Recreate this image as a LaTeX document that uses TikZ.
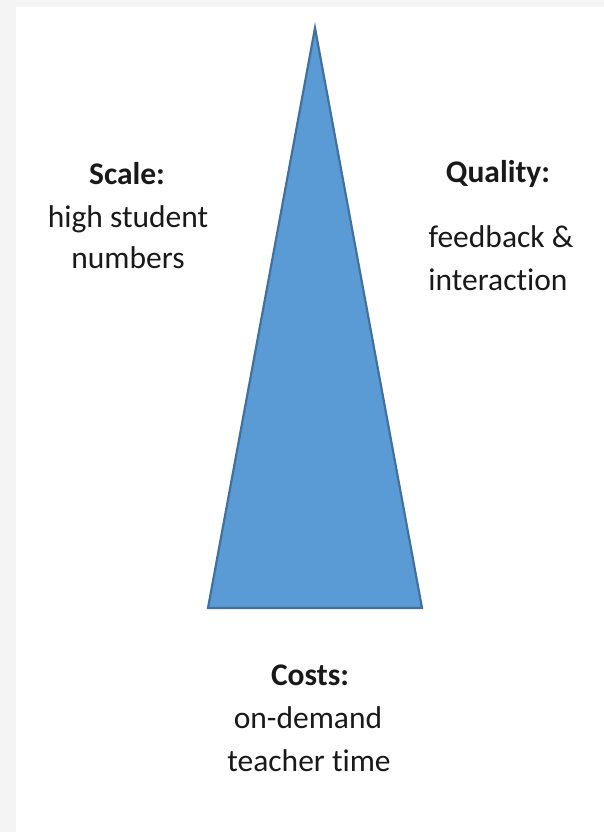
\documentclass[tikz,border=0pt]{standalone}
\usepackage{fontspec}
\setmainfont{Carlito}[Ligatures=CommonOff]
\definecolor{bggray}{HTML}{F4F4F4}
\definecolor{trifill}{HTML}{5B9BD5}
\definecolor{triline}{HTML}{41719C}
\begin{document}
\begin{tikzpicture}[x=1bp,y=-1bp,
  lbl/.style={anchor=base,inner sep=0pt,font=\fontsize{31.5bp}{38bp}\selectfont,text=black!90},
  head/.style={lbl,font=\fontsize{31.5bp}{38bp}\selectfont\bfseries}]
\useasboundingbox (0,0) rectangle (604,832);
\fill[bggray] (0,0) rectangle (604,832);
\fill[white] (16,7) rectangle (604,832);
\coordinate (apex) at (315,28);
\coordinate (bl) at (208,608);
\coordinate (br) at (422,608);
\draw[fill=trifill,draw=triline,line width=2.2bp,line join=miter] (apex) -- (br) -- (bl) -- cycle;
\node[head] (scale) at (127,184) {Scale:};
\node[lbl] (scale1) at (128,227) {high student};
\node[lbl] (scale2) at (128,268) {numbers};
\node[head] (quality) at (498,182) {Quality:};
\node[lbl] (quality1) at (501,247) {feedback \&};
\node[lbl] (quality2) at (498,290) {interaction};
\node[head] (costs) at (310,685) {Costs:};
\node[lbl] (costs1) at (308,728) {on-demand};
\node[lbl] (costs2) at (309,771) {teacher time};
\end{tikzpicture}
\end{document}
